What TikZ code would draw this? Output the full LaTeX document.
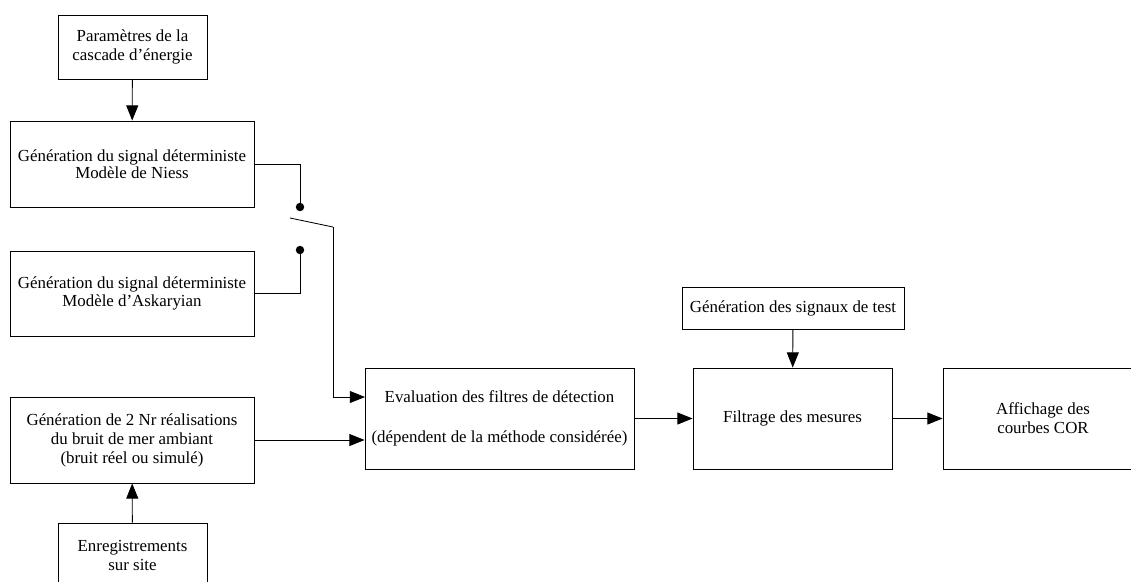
\documentclass[tikz,border=0pt]{standalone}
\usepackage{fontspec}
\setmainfont{Liberation Serif}
\usetikzlibrary{arrows.meta}

\tikzset{
  blocbox/.style={draw, line width=0.6pt, inner sep=0pt, align=center},
  fleche/.style={draw, line width=0.6pt, -{Triangle[length=3.8mm,width=3mm]}},
  trait/.style={draw, line width=0.6pt},
}

\begin{document}
\begin{tikzpicture}[x=0.025cm, y=-0.025cm, every node/.style={font=\fontsize{12}{13.5}\selectfont}]
        \useasboundingbox (0,0) rectangle (1131,581);
%        \draw [help lines] (0,0) grid[step=50] (1131,581);
        \node [blocbox, minimum width=3.725cm, minimum height=1.6cm] (param) at (132.5,47) {Paramètres de la\\cascade d’énergie};
        \node [blocbox, minimum width=6.1cm, minimum height=2.15cm] (niess) at (132,164) {Génération du signal déterministe\\[-1pt]Modèle de Niess};
        \node [blocbox, minimum width=6.1cm, minimum height=2.125cm] (aska) at (132,293.5) {Génération du signal déterministe\\[-1pt]Modèle d’Askaryian};
        \node [blocbox, minimum width=6.1cm, minimum height=2.15cm] (bruit) at (132,440) {Génération de 2 Nr réalisations\\du bruit de mer ambiant\\(bruit réel ou simulé)};
        \node [blocbox, minimum width=3.725cm, minimum height=1.6cm] (enreg) at (132.5,555) {Enregistrements\\sur site};
        \node [blocbox, minimum width=6.725cm, minimum height=2.525cm] (eval) at (499.5,418.5) {Evaluation des filtres de détection\\[15pt](dépendent de la méthode considérée)};
        \node [blocbox, minimum width=5.55cm, minimum height=1.05cm] (test) at (793,308) {Génération des signaux de test};
        \node [blocbox, minimum width=4.975cm, minimum height=2.525cm] (filtre) at (792.5,418.5) {Filtrage des mesures};
        \node [blocbox, minimum width=5cm, minimum height=2.525cm] (cor) at (1043,418.5) {Affichage des\\courbes COR};

        % interrupteur
        \coordinate (plotA) at (300,207);
        \coordinate (plotB) at (300,250);
        \coordinate (levier) at (290,218);
        \coordinate (pivot) at (333,227);
        \coordinate (entree) at (365,397);
        \fill (plotA) circle[radius=3pt];
        \fill (plotB) circle[radius=3pt];
        \draw [trait] (niess.east) -| (plotA);
        \draw [trait] (aska.east) -| (plotB);
        \draw [trait] (levier) -- (pivot);
        \draw [fleche] (pivot) |- (entree);

        \draw [fleche] (param) -- (niess);
        \draw [fleche] (enreg) -- (bruit);
        \draw [fleche] (bruit.east) -- (bruit.east -| eval.west);
        \draw [fleche] (eval) -- (filtre);
        \draw [fleche] (test) -- (filtre);
        \draw [fleche] (filtre) -- (cor);
\end{tikzpicture}
\end{document}
